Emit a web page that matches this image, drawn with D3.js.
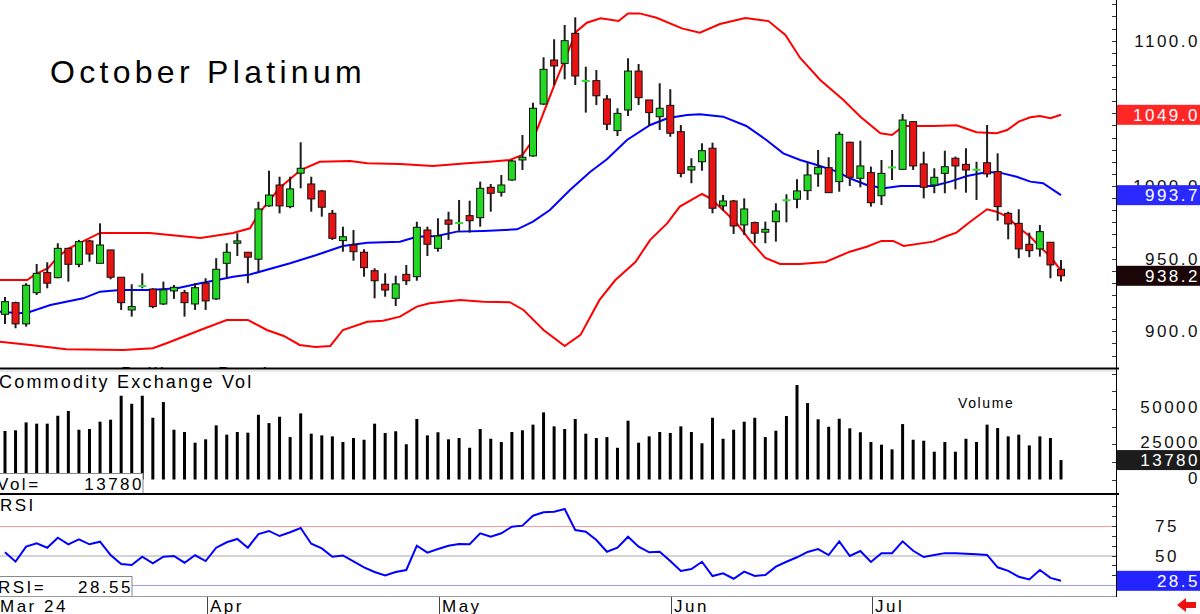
<!DOCTYPE html>
<html>
<head>
<meta charset="utf-8">
<script src="https://cdn.jsdelivr.net/npm/d3@7"></script>
<style>
  body { margin: 0; background: #fff; }
  svg { display: block; font-family: "Liberation Sans", Arial, sans-serif; }
</style>
</head>
<body>
<svg id="chart" width="1200" height="614"></svg>
<script>
// daily bars, Mar 4 2024 .. Jul 26 2024 (index 0..100)
const open = [911.7,919.7,905.1,926.6,940.4,936.9,957.1,946.1,962.2,946.8,
  956.0,937.2,914.7,931.2,929.1,918.8,927.8,926.6,918.8,933.1,
  922.3,946.8,960.6,954.4,949.6,986.3,1000.7,985.8,1008.8,1001.4,
  996.6,981.2,962.4,959.4,954.4,941.7,932.4,922.7,939.2,937.6,
  969.7,957.1,976.6,974.5,979.6,978.2,999.1,995.7,1004.1,1017.9,
  1020.7,1056.4,1086.7,1084.4,1105.1,1072.3,1072.5,1059.9,1038.1,1052.3,
  1079.1,1059.2,1047.7,1055.5,1037.4,1011.0,1016.7,1026.0,986.3,989.7,
  973.2,974.8,968.2,975.4,990.2,990.9,996.8,1008.3,1012.6,1003.0,
  1030.1,1005.3,1009.2,993.3,1012.8,1011.5,1044.3,1015.2,1000.7,1008.7,
  1019.1,1014.9,1011.2,1016.0,1009.9,981.2,974.3,959.9,956.7,961.3,
  942.7]
const high = [923.6,920.4,933.1,946.3,947.5,960.6,957.5,962.9,962.9,974.3,
  956.0,937.2,932.4,939.9,929.6,934.2,931.9,928.5,933.1,936.5,
  950.3,960.6,967.5,954.4,989.2,1010.5,1006.4,1006.4,1030.1,1006.4,
  997.3,983.5,972.0,969.7,956.5,943.4,939.9,938.3,945.6,975.4,
  972.0,977.8,982.3,990.4,989.9,1003.0,1001.4,1007.6,1017.9,1035.1,
  1057.3,1088.6,1101.0,1110.8,1116.1,1082.1,1079.8,1062.6,1053.5,1087.9,
  1084.0,1059.2,1070.7,1066.6,1042.0,1019.1,1029.4,1029.8,993.8,990.4,
  991.5,975.5,975.5,988.1,994.3,1004.6,1016.0,1024.8,1019.8,1037.4,
  1030.5,1031.2,1013.3,1017.9,1024.8,1049.6,1044.3,1023.6,1012.2,1024.3,
  1020.2,1026.0,1016.7,1042.0,1022.5,982.3,984.0,967.9,973.2,961.3,
  949.1]
const low = [905.1,902.1,903.2,925.0,929.6,936.5,934.2,944.1,947.9,946.8,
  935.8,914.7,910.1,929.6,915.9,918.1,922.3,910.1,914.7,914.7,
  921.6,936.9,951.8,933.1,941.0,985.8,981.2,984.7,998.4,982.3,
  978.9,962.9,954.8,948.6,937.6,922.7,923.8,917.4,931.9,934.8,
  951.8,954.8,962.9,968.6,967.9,972.0,982.3,992.7,1003.6,1011.0,
  1020.2,1055.7,1069.5,1073.4,1069.5,1050.5,1055.7,1038.5,1034.4,1048.2,
  1055.7,1041.3,1038.5,1033.9,1006.0,1001.9,1010.5,981.2,983.0,967.0,
  966.3,960.6,960.6,961.7,975.0,984.7,990.4,999.5,995.4,996.1,
  1000.0,999.1,985.8,986.9,1004.1,1011.0,1011.0,991.5,995.0,995.0,
  997.7,995.4,990.4,1006.0,976.1,963.3,950.3,951.0,951.4,936.5,
  934.2]
const close = [920.4,905.1,931.7,939.9,933.1,957.1,946.1,961.7,953.2,959.4,
  937.2,919.7,917.0,931.2,917.0,928.5,930.3,919.7,930.0,920.9,
  942.7,954.4,962.2,951.0,984.2,993.8,986.3,998.0,1012.2,991.1,
  985.4,964.0,965.1,954.8,943.8,934.8,928.4,932.6,934.8,971.6,
  959.9,965.6,973.7,974.5,976.1,998.4,995.0,1000.7,1017.2,1019.8,
  1053.5,1080.3,1082.6,1100.0,1075.7,1072.3,1062.1,1042.5,1050.0,1079.1,
  1060.8,1050.5,1053.5,1036.3,1008.7,1013.3,1024.3,984.7,989.7,972.5,
  984.2,967.5,970.2,982.8,990.2,996.6,1007.6,1012.9,995.4,1035.6,
  1006.0,1013.8,988.5,1008.7,1012.8,1045.4,1013.8,999.1,1006.0,1013.3,
  1013.8,1011.0,1011.2,1008.3,985.8,973.9,956.7,955.5,968.6,945.7,
  938.2]
const volume = [34400,34900,40500,39600,39600,45200,48600,35300,35800,41000,
  42400,59400,53700,59400,43800,54900,35300,33700,26100,28500,
  38400,31800,33700,33200,45900,40000,44500,30100,46900,32500,
  31300,30600,26600,29400,28200,39600,33000,34200,25000,42900,
  31300,33500,28500,29400,22500,35800,28900,26600,33700,34900,
  38900,47600,37700,35800,42900,32500,29400,30100,22500,41700,
  26100,30600,33700,33000,37700,33700,25700,43800,28900,35300,
  41000,43800,30100,34600,45000,67000,54200,42700,37400,43100,
  36300,33500,26600,24700,21400,39300,28200,27500,19700,26600,
  19700,28900,26600,38900,36500,30600,31800,24200,30600,29400,
  13780]
const rsi = [52.7,44.8,57.5,60.3,56.6,65.1,59.5,63.7,59.5,61.7,
  50.4,42.8,42.0,49.0,43.4,49.0,49.6,43.9,50.2,45.3,
  56.6,61.2,64.0,56.6,68.2,70.8,66.5,69.7,73.3,60.0,
  56.0,49.0,50.0,45.0,40.0,36.0,33.0,36.0,37.7,58.3,
  52.4,55.5,58.3,59.7,59.5,68.8,65.9,68.8,74.4,75.3,
  83.7,86.6,87.1,89.4,71.6,70.2,63.1,53.2,56.6,65.9,
  57.5,52.7,53.2,45.3,36.9,38.6,44.7,32.6,34.9,30.3,
  36.3,32.6,33.5,40.5,44.7,48.5,53.0,55.5,50.4,62.0,
  49.6,53.8,44.5,52.0,52.0,62.0,54.0,48.7,50.4,52.0,
  52.0,51.5,51.0,50.5,40.0,37.0,32.0,29.7,37.7,31.0,
  28.55]

// Bollinger band readings: [bar index, price]
const bbUpper = [[-0.5,935.3],[2.1,935.3],[2.8,938.8],[4.1,943.6],[5.0,951.2],[6.1,957.3],[7.1,960.8],
  [9.0,967.7],[13.7,967.7],[18.5,964.2],[21.6,967.7],[23.2,970.9],[24,980.7],[26,998.6],[28,1011],
  [29.8,1016.7],[32.7,1017.2],[34.3,1015.6],[37.4,1015.2],[40.5,1013.8],[43.75,1015.6],[45.9,1016.7],
  [47.8,1017.9],[49,1021.3],[50,1031.7],[52.1,1070.9],[54.1,1106.2],[55.1,1112.4],[56.4,1115.4],
  [58.1,1113.6],[59,1118.8],[60.1,1118.8],[61.7,1115.8],[64.1,1108.5],[65.8,1105.5],[67.7,1111.5],
  [70.1,1115.6],[72.3,1113.5],[73.9,1103.9],[75.3,1088.1],[77.2,1073],[79.4,1059.2],[81,1047.7],
  [82.9,1036.3],[84,1035.1],[85.1,1041.3],[87.9,1041.3],[90.1,1041.8],[92,1037],[93.9,1036.3],
  [94.9,1038.5],[96,1044.3],[97.1,1047.3],[98,1048.2],[99,1046.6],[100,1049.0]]
const bbMiddle = [[-0.5,913.5],[1.4,912.4],[2.4,913.5],[4.3,918.1],[7.4,922.7],[9,927.3],[10.9,928.4],
  [13.7,928.4],[16.3,929.6],[18.5,933.1],[20.1,935.3],[21.6,937.6],[23.2,939.1],[27,946.8],[29.5,952.5],
  [32,958.7],[34.3,961],[37.4,961.7],[39,965.1],[40.9,965.6],[42.8,968.6],[45.3,969.1],[48.5,970.2],
  [50,975.5],[51.6,983.5],[53.5,997.3],[55.4,1009.6],[57,1018.4],[58.9,1031.7],[61.1,1042],[62.8,1046.8],
  [64.6,1048.9],[65.8,1049.4],[68,1047.7],[70.2,1041.3],[72.1,1031.7],[73.7,1022.5],[75.3,1017.9],
  [76.9,1014.5],[78.8,1009.9],[80,1005.3],[81.6,1000.7],[83.2,998.4],[84.8,1000],[87.9,1000],[89.5,1003],
  [91.1,1006.9],[93,1009.6],[94.2,1009.2],[95.8,1006.4],[97.1,1003],[98.3,1001.9],[100,993.7]]
const bbLower = [[-0.5,892.9],[2.4,890.6],[5.8,887.6],[11.2,887.2],[14,888.3],[15.3,891.8],[18.5,900.9],
  [21,907.8],[23,907.8],[24.8,900.9],[26.4,896.8],[27.9,890.6],[29.4,889.2],[30.8,889.9],[32,900.9],
  [34.3,906.6],[35.8,907.3],[37.4,910.1],[39,917],[40.2,919.3],[43.1,921.6],[45.3,920.4],[47.8,920],
  [49.1,914.7],[51,900.9],[53,889.9],[54.5,897.5],[56.3,921.6],[57.8,935.3],[59.7,947.7],[61.1,962.9],
  [62.7,974.3],[63.9,985.8],[66,994.5],[66.8,991.5],[68,983.5],[69.3,974.3],[70.5,962.9],[72,950.5],
  [73.4,946.3],[75.3,946.3],[77.7,947.7],[80,954.8],[81.6,958.2],[83,962.2],[84.1,962.2],[85.1,958.7],
  [87.9,961.7],[89.2,965.6],[90.1,967.9],[91.4,975.4],[93,984],[93.9,982.3],[94.9,978.9],[95.8,972.5],
  [97.1,965.1],[98,958.2],[99,951.4],[100,941.7]]

const monthLabels = ['Mar 24', 'Apr', 'May', 'Jun', 'Jul']
const monthStart = [0, 19, 41, 63, 82]
const priceLabels = [900, 950, 1000, 1050, 1100]
const volLabels = [0, 25000, 50000]
const rsiLabels = [50, 75]
const rsiLevels = [25, 50, 75]

const W = 1116
const svg = d3.select('#chart')

const x = d3.scaleLinear().domain([0, 100]).range([5, 1061])
const yPrice = d3.scaleLinear().domain([900, 1100]).range([331.3, 40.7])
const yVol = d3.scaleLinear().domain([0, 50000]).range([479.5, 409])
const yRsi = d3.scaleLinear().domain([25, 75]).range([585, 526])

svg.append('rect').attr('width', 1200).attr('height', 614).attr('fill', '#fff')

const defs = svg.append('defs')
defs.append('clipPath').attr('id', 'clipPrice')
  .append('rect').attr('x', 0).attr('y', 0).attr('width', W).attr('height', 368)
defs.append('clipPath').attr('id', 'clipRsi')
  .append('rect').attr('x', 0).attr('y', 495).attr('width', W).attr('height', 101)

// ---- price panel
const gPrice = svg.append('g').attr('clip-path', 'url(#clipPrice)')

gPrice.append('text')
  .attr('x', 50).attr('y', 83)
  .attr('font-size', 32).attr('letter-spacing', 4.3)
  .text('October Platinum')

// tops of a hidden study label peek out above the volume panel
gPrice.append('text')
  .attr('x', 121).attr('y', 380)
  .attr('font-size', 18).attr('letter-spacing', 2.2)
  .text('Bollinger Bands')

const bandLine = d3.line().x(d => x(d[0])).y(d => yPrice(d[1]))
gPrice.append('path').datum(bbUpper).attr('d', bandLine)
  .attr('fill', 'none').attr('stroke', '#ff0000').attr('stroke-width', 2)
gPrice.append('path').datum(bbLower).attr('d', bandLine)
  .attr('fill', 'none').attr('stroke', '#ff0000').attr('stroke-width', 2)
gPrice.append('path').datum(bbMiddle).attr('d', bandLine)
  .attr('fill', 'none').attr('stroke', '#0000ff').attr('stroke-width', 2)

const bars = d3.range(close.length).map(i => ({ i, o: open[i], h: high[i], l: low[i], c: close[i] }))

const candle = gPrice.selectAll('g.candle').data(bars).join('g').attr('class', 'candle')
candle.append('line')
  .attr('x1', d => x(d.i)).attr('x2', d => x(d.i))
  .attr('y1', d => yPrice(d.h)).attr('y2', d => yPrice(d.l))
  .attr('stroke', '#1c1c1c').attr('stroke-width', 2)
candle.filter(d => d.o !== d.c).append('rect')
  .attr('x', d => x(d.i) - 3.5).attr('width', 7)
  .attr('y', d => yPrice(Math.max(d.o, d.c)))
  .attr('height', d => Math.max(1, Math.abs(yPrice(d.o) - yPrice(d.c))))
  .attr('fill', d => d.c > d.o ? '#22d822' : '#e81414')
  .attr('stroke', '#111').attr('stroke-width', 1)
candle.filter(d => d.o === d.c).append('line')
  .attr('x1', d => x(d.i) - 4).attr('x2', d => x(d.i) + 4)
  .attr('y1', d => yPrice(d.c)).attr('y2', d => yPrice(d.c))
  .attr('stroke', '#33dd33').attr('stroke-width', 2)

// ---- volume panel
svg.append('line').attr('x1', 0).attr('x2', W).attr('y1', 371).attr('y2', 371)
  .attr('stroke', '#d0d0d0').attr('stroke-width', 1)

svg.append('text')
  .attr('x', -1).attr('y', 388)
  .attr('font-size', 18).attr('letter-spacing', 2.2)
  .text('Commodity Exchange Vol')

svg.append('text')
  .attr('x', 958).attr('y', 408)
  .attr('font-size', 14).attr('letter-spacing', 1.6)
  .text('Volume')

svg.append('g').selectAll('rect').data(volume).join('rect')
  .attr('x', (d, i) => x(i) - 1.5).attr('width', 3)
  .attr('y', d => yVol(d)).attr('height', d => yVol(0) - yVol(d))
  .attr('fill', '#000')

const volBox = svg.append('g')
volBox.append('rect').attr('x', -1).attr('y', 473.5).attr('width', 144).attr('height', 20)
  .attr('fill', '#fff').attr('stroke', '#888')
volBox.append('text').attr('x', -3).attr('y', 490).attr('font-size', 17).attr('letter-spacing', 2.5)
  .text('Vol=')
volBox.append('text').attr('x', 144).attr('y', 490).attr('font-size', 17).attr('letter-spacing', 2.5)
  .attr('text-anchor', 'end').text(d3.format('d')(volume[volume.length - 1]))

// ---- rsi panel
const gRsi = svg.append('g').attr('clip-path', 'url(#clipRsi)')
const levelColor = { 25: '#9a9aff', 50: '#a8a8a8', 75: '#ff9a9a' }
gRsi.selectAll('line.level').data(rsiLevels).join('line')
  .attr('x1', 0).attr('x2', W)
  .attr('y1', d => yRsi(d) + 0.5).attr('y2', d => yRsi(d) + 0.5)
  .attr('stroke', d => levelColor[d]).attr('stroke-width', 1)

const rsiLine = d3.line().x((d, i) => x(i)).y(d => yRsi(d))
gRsi.append('path').datum(rsi).attr('d', rsiLine)
  .attr('fill', 'none').attr('stroke', '#0000ff').attr('stroke-width', 2)

svg.append('text').attr('x', 0).attr('y', 511).attr('font-size', 17).attr('letter-spacing', 2.5)
  .text('RSI')

const rsiBox = svg.append('g')
rsiBox.append('rect').attr('x', -1).attr('y', 576.5).attr('width', 133).attr('height', 20)
  .attr('fill', '#fff').attr('stroke', '#888')
rsiBox.append('text').attr('x', -2).attr('y', 593).attr('font-size', 17).attr('letter-spacing', 2.5)
  .text('RSI=')
rsiBox.append('text').attr('x', 133).attr('y', 593).attr('font-size', 17).attr('letter-spacing', 2.5)
  .attr('text-anchor', 'end').text(d3.format('.2f')(rsi[rsi.length - 1]))

// ---- panel separators
svg.append('line').attr('x1', 0).attr('x2', W + 3).attr('y1', 368.5).attr('y2', 368.5)
  .attr('stroke', '#000').attr('stroke-width', 2)
svg.append('line').attr('x1', 0).attr('x2', W + 3).attr('y1', 494).attr('y2', 494)
  .attr('stroke', '#000').attr('stroke-width', 2)
svg.append('line').attr('x1', 0).attr('x2', W).attr('y1', 596.5).attr('y2', 596.5)
  .attr('stroke', '#999').attr('stroke-width', 1)

// ---- right axis
const axis = svg.append('g')
axis.append('line').attr('x1', W + 0.5).attr('x2', W + 0.5).attr('y1', 0).attr('y2', 597)
  .attr('stroke', '#000').attr('stroke-width', 1)

const priceTicks = d3.range(-12, 32).map(k => 900 + k * 50 / 6)
  .filter(p => yPrice(p) >= 2 && yPrice(p) <= 366)
const volTicks = d3.range(0, 7).map(k => k * 12500)
const rsiTicks = d3.range(-3, 6).map(k => 75 - k * 25 / 3)
  .filter(r => yRsi(r) >= 497 && yRsi(r) <= 595)

const tickYs = [
  ...priceTicks.map(p => yPrice(p)),
  ...volTicks.map(v => yVol(v)),
  ...rsiTicks.map(r => yRsi(r))
]
axis.selectAll('line.tick').data(tickYs).join('line')
  .attr('x1', W - 4).attr('x2', W)
  .attr('y1', d => Math.round(d) + 0.5).attr('y2', d => Math.round(d) + 0.5)
  .attr('stroke', '#333').attr('stroke-width', 1)

const labelStyle = sel => sel
  .attr('font-size', 17).attr('letter-spacing', 2.5)
  .attr('text-anchor', 'end').attr('fill', '#111')

axis.selectAll('text.p').data(priceLabels).join('text')
  .attr('x', 1200).attr('y', d => yPrice(d) + 6)
  .call(labelStyle).text(d => d3.format('.1f')(d))
axis.selectAll('text.v').data(volLabels).join('text')
  .attr('x', 1200).attr('y', d => yVol(d) + 4)
  .call(labelStyle).text(d => d)
axis.selectAll('text.r').data(rsiLabels).join('text')
  .attr('x', 1179).attr('y', d => yRsi(d) + 6)
  .call(labelStyle).text(d => d)

// last value boxes
const lastBoxes = [
  { y: yPrice(bbUpper[bbUpper.length - 1][1]), fill: '#ff2626', text: d3.format('.1f')(bbUpper[bbUpper.length - 1][1]) },
  { y: yPrice(bbMiddle[bbMiddle.length - 1][1]), fill: '#2a2aff', text: d3.format('.1f')(bbMiddle[bbMiddle.length - 1][1]) },
  { y: yPrice(close[close.length - 1]), fill: '#1a0606', text: d3.format('.1f')(close[close.length - 1]) },
  { y: yVol(volume[volume.length - 1]), fill: '#1c1c1c', text: String(volume[volume.length - 1]) },
  { y: yRsi(rsi[rsi.length - 1]), fill: '#2424ff', text: d3.format('.1f')(Math.floor(rsi[rsi.length - 1] * 10) / 10) }
]
const lb = axis.selectAll('g.last').data(lastBoxes).join('g')
lb.append('rect').attr('x', 1117).attr('y', d => d.y - 10).attr('width', 83).attr('height', 20)
  .attr('fill', d => d.fill)
lb.append('text').attr('x', 1200).attr('y', d => d.y + 6)
  .call(labelStyle).attr('fill', '#fff').text(d => d.text)

// ---- month axis
const gx = svg.append('g')
gx.selectAll('line').data(monthStart.slice(1)).join('line')
  .attr('x1', d => Math.round(x(d)) + 1.5).attr('x2', d => Math.round(x(d)) + 1.5)
  .attr('y1', 597).attr('y2', 614)
  .attr('stroke', '#444').attr('stroke-width', 1)
gx.selectAll('text').data(monthLabels).join('text')
  .attr('x', (d, i) => i === 0 ? 0 : Math.round(x(monthStart[i])) + 4)
  .attr('y', 612)
  .attr('font-size', 17).attr('letter-spacing', 2.5)
  .text(d => d)

// back arrow
svg.append('path')
  .attr('d', 'M1177,605 L1186,598 L1186,602 L1196,602 L1196,608 L1186,608 L1186,612 Z')
  .attr('fill', '#ee1111')
</script>
</body>
</html>
